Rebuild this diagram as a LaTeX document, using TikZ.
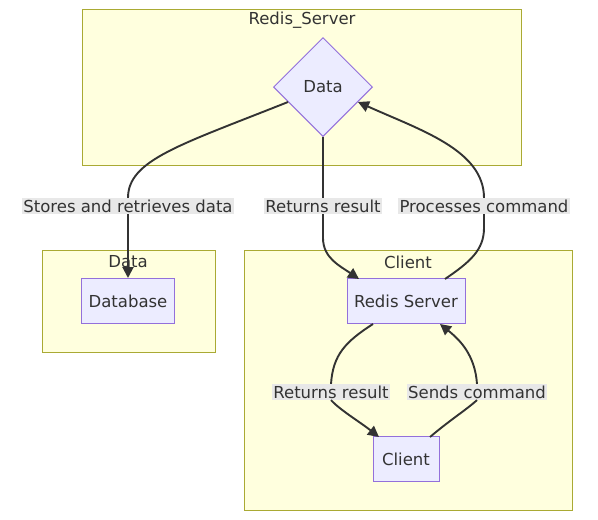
\documentclass[tikz,border=0pt]{standalone}
\usepackage{fontspec}
\setmainfont{DejaVu Sans}
\usetikzlibrary{shapes.geometric,arrows.meta,calc}
\definecolor{clusterfill}{HTML}{FFFFDE}
\definecolor{clusterline}{HTML}{AAAA33}
\definecolor{nodefill}{HTML}{ECECFF}
\definecolor{nodeline}{HTML}{9370DB}
\definecolor{labelfill}{HTML}{E8E8E8}
\definecolor{ink}{HTML}{333333}

\begin{document}
\begin{tikzpicture}[x=1pt,y=-1pt,
    font=\fontsize{16.5}{19}\selectfont, text=ink,
    cluster/.style={draw=clusterline, fill=clusterfill, line width=1pt},
    box/.style={draw=nodeline, fill=nodefill, line width=1pt, inner sep=0pt},
    edgelabel/.style={fill=labelfill, inner sep=1.5pt},
    link/.style={draw=ink, line width=1.9pt, -{Triangle[length=11pt,width=11pt]}}]
    \useasboundingbox (0,0) rectangle (598,520);
    % subgraphs
    \draw[cluster] (82,9) rectangle (521,165);
    \node (serverTitle) at (302,20) {Redis\_Server};
    \draw[cluster] (42,250) rectangle (215,352);
    \node (dataTitle) at (128,262) {Data};
    \draw[cluster] (244,250) rectangle (572,510);
    \node (clientTitle) at (408,262) {Client};
    % nodes
    \node[box, diamond, minimum width=99pt, minimum height=99pt] (data) at (323,87) {Data};
    \node[box, minimum width=93pt, minimum height=45pt] (db) at (128,301) {Database};
    \node[box, minimum width=118pt, minimum height=45pt] (server) at (406,301) {Redis Server};
    \node[box, minimum width=66pt, minimum height=45pt] (client) at (406,459) {Client};
    % edge labels
    \node[edgelabel] (storeLabel) at (128,206) {Stores and retrieves data};
    \node[edgelabel] (resultLabel) at (323,206) {Returns result};
    \node[edgelabel] (processLabel) at (484,206) {Processes command};
    \node[edgelabel] (returnLabel) at (331,392) {Returns result};
    \node[edgelabel] (sendLabel) at (477,392) {Sends command};
    % edges
    \draw[link] ($(data.west)!0.3!(data.south)$) .. controls (180,145) and (128,160) .. (storeLabel.north)
      (storeLabel.south) -- (db.north);
    \draw[link] (data.south) -- (resultLabel.north)
      (resultLabel.south) -- (323,238) .. controls (323,258) and (340,266) .. (359,279);
    \draw[link] (445,279) .. controls (470,262) and (484,250) .. (484,228) -- (processLabel.south)
      (processLabel.north) .. controls (484,150) and (420,130) .. ($(data.east)!0.3!(data.south)$);
    \draw[link] (373,324) .. controls (345,342) and (333,355) .. (returnLabel.north)
      (returnLabel.south) .. controls (340,410) and (360,422) .. (379,437);
    \draw[link] (430,437) .. controls (450,420) and (466,410) .. (sendLabel.south)
      (sendLabel.north) .. controls (475,355) and (460,340) .. (440,324);
\end{tikzpicture}
\end{document}
